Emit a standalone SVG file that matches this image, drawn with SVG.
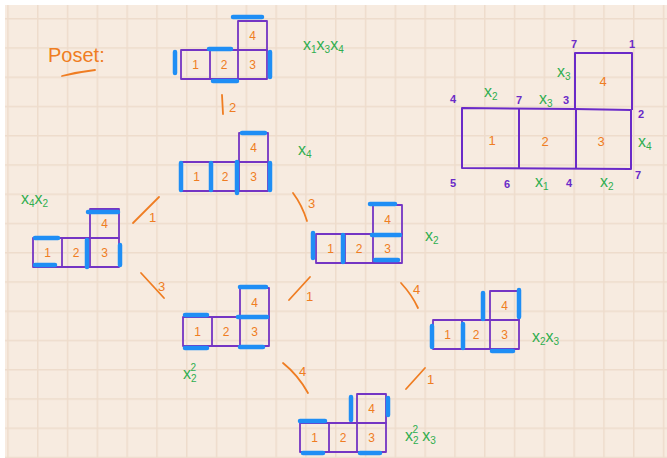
<svg xmlns="http://www.w3.org/2000/svg" width="667" height="458" viewBox="0 0 667 458">
<defs>
<pattern id="grid" x="7.2" y="18" width="29.8" height="29.25" patternUnits="userSpaceOnUse">
<path d="M0 0V29.25M0 0H29.8" stroke="#eedccc" stroke-width="3" fill="none"/>
</pattern>
<g id="shape">
<rect x="0" y="0" width="86" height="29" class="cell"/>
<path d="M29 0V29M57 0V29" class="cell"/>
<rect x="57" y="-29" width="29" height="29" class="cell"/>
<text x="14.5" y="19" class="num">1</text>
<text x="43" y="19" class="num">2</text>
<text x="71.5" y="19" class="num">3</text>
<text x="71.5" y="-10" class="num">4</text>
</g>
</defs>
<style>
.cell{fill:none;stroke:#7435c4;stroke-width:1.8;stroke-linejoin:round}
.mark{fill:none;stroke:#1f8ef5;stroke-width:4.5;stroke-linecap:round}
.num{font-family:"Liberation Sans",Arial,sans-serif;font-size:12px;fill:#ef7d22;text-anchor:middle}
.lbl{font-family:"Liberation Sans",Arial,sans-serif;font-size:16px;fill:#2fae4f}
.sub{font-size:10px}
.edge{fill:none;stroke:#ef7d22;stroke-width:1.8;stroke-linecap:round}
.elbl{font-family:"Liberation Sans",Arial,sans-serif;font-size:13px;fill:#ef7d22}
.pn{font-family:"Liberation Sans",Arial,sans-serif;font-size:11px;font-weight:bold;fill:#6a2ac8;text-anchor:middle}
.big{fill:none;stroke:#6a2ac8;stroke-width:2;stroke-linejoin:round}
.bnum{font-family:"Liberation Sans",Arial,sans-serif;font-size:13px;fill:#ef7d22;text-anchor:middle}
</style>
<rect width="667" height="458" fill="#ffffff"/>
<rect x="5" y="5" width="662" height="453" fill="#f7ebe0"/>
<rect x="5" y="5" width="662" height="453" fill="url(#grid)"/>

<g id="title">
<text x="48" y="62" font-family="Liberation Sans, Arial, sans-serif" font-size="20" fill="#ef7d22">Poset:</text>
<path d="M62 76 Q78 72 95 70" class="edge"/>
</g>

<g id="connectors">
<path d="M222 95 L223 114" class="edge"/><text x="229" y="112" class="elbl">2</text>
<path d="M133 223 L159 197" class="edge"/><text x="149" y="222" class="elbl">1</text>
<path d="M141 273 L164 298" class="edge"/><text x="158" y="291" class="elbl">3</text>
<path d="M293 193 Q302 205 307 221" class="edge"/><text x="308" y="208" class="elbl">3</text>
<path d="M289 300 L310 277" class="edge"/><text x="306" y="301" class="elbl">1</text>
<path d="M401 283 Q412 295 418 308" class="edge"/><text x="413" y="294" class="elbl">4</text>
<path d="M283 363 Q298 375 308 393" class="edge"/><text x="299" y="376" class="elbl">4</text>
<path d="M406 389 L425 368" class="edge"/><text x="427" y="384" class="elbl">1</text>
</g>

<g id="nodeA" transform="translate(181,50)">
<use href="#shape"/>
<path d="M-6 2V23M28 -1H50M32 31H56M52 -33H81M89 2V27" class="mark"/>
<text x="303" y="50" class="lbl" transform="translate(-181,-50)">x<tspan class="sub" dy="3">1</tspan><tspan dy="-3">x</tspan><tspan class="sub" dy="3">3</tspan><tspan dy="-3">x</tspan><tspan class="sub" dy="3">4</tspan></text>
</g>

<g id="nodeB" transform="translate(182,162)">
<use href="#shape"/>
<path d="M-1 1V28M29 1V28M55 0V31M88 1V28M60 -29H83" class="mark"/>
<text x="116" y="-7" class="lbl">x<tspan class="sub" dy="3">4</tspan></text>
</g>

<g id="nodeC" transform="translate(33,238)">
<use href="#shape"/>
<path d="M55 -26H85M2 0H25M2 27H22M54 2V29M87 7V27" class="mark"/>
<text x="-12" y="-34" class="lbl">x<tspan class="sub" dy="3">4</tspan><tspan dy="-3">x</tspan><tspan class="sub" dy="3">2</tspan></text>
</g>

<g id="nodeD" transform="translate(183,317)">
<use href="#shape"/>
<path d="M57 -30H83M2 -2H24M2 31H24M55 0H84M57 30H80" class="mark"/>
<text x="0" y="62" class="lbl">x<tspan class="sub" dy="3">2</tspan><tspan class="sub" dx="-6" dy="-11">2</tspan></text>
</g>

<g id="nodeE" transform="translate(316,234)">
<use href="#shape"/>
<path d="M-3 -1V24M27 1V28M54 -30H79M56 1H84M59 26H82" class="mark"/>
<text x="109" y="7" class="lbl">x<tspan class="sub" dy="3">2</tspan></text>
</g>

<g id="nodeF" transform="translate(433,320)">
<use href="#shape"/>
<path d="M-1 6V27M30 4V28M50 -27V-1M86 -30V-3M59 31H80" class="mark"/>
<text x="99" y="22" class="lbl">x<tspan class="sub" dy="3">2</tspan><tspan dy="-3">x</tspan><tspan class="sub" dy="3">3</tspan></text>
</g>

<g id="nodeG" transform="translate(300,423)">
<use href="#shape"/>
<path d="M0 -2H25M3 30H23M51 -26V-3M88 -25V-8M60 30H80" class="mark"/>
<text x="105" y="18" class="lbl">x<tspan class="sub" dy="3">2</tspan><tspan class="sub" dx="-6" dy="-11">2</tspan><tspan dx="4" dy="8">x</tspan><tspan class="sub" dy="3">3</tspan></text>
</g>

<g id="model">
<path d="M462 108 L575 109 L631 110 L631 169 L462 168 Z" class="big"/>
<path d="M519 108V169M576 110V169M575 110V53H632V110" class="big"/>
<text x="492" y="145" class="bnum">1</text>
<text x="545" y="146" class="bnum">2</text>
<text x="601" y="146" class="bnum">3</text>
<text x="603" y="86" class="bnum">4</text>
<text x="574" y="48" class="pn">7</text>
<text x="632" y="48" class="pn">1</text>
<text x="453" y="103" class="pn">4</text>
<text x="519" y="104" class="pn">7</text>
<text x="566" y="104" class="pn">3</text>
<text x="641" y="118" class="pn">2</text>
<text x="453" y="187" class="pn">5</text>
<text x="507" y="188" class="pn">6</text>
<text x="569" y="187" class="pn">4</text>
<text x="638" y="179" class="pn">7</text>
<text x="484" y="97" class="lbl">x<tspan class="sub" dy="3">2</tspan></text>
<text x="539" y="104" class="lbl">x<tspan class="sub" dy="3">3</tspan></text>
<text x="557" y="77" class="lbl">x<tspan class="sub" dy="3">3</tspan></text>
<text x="638" y="147" class="lbl">x<tspan class="sub" dy="3">4</tspan></text>
<text x="535" y="187" class="lbl">x<tspan class="sub" dy="3">1</tspan></text>
<text x="600" y="187" class="lbl">x<tspan class="sub" dy="3">2</tspan></text>
</g>
</svg>
